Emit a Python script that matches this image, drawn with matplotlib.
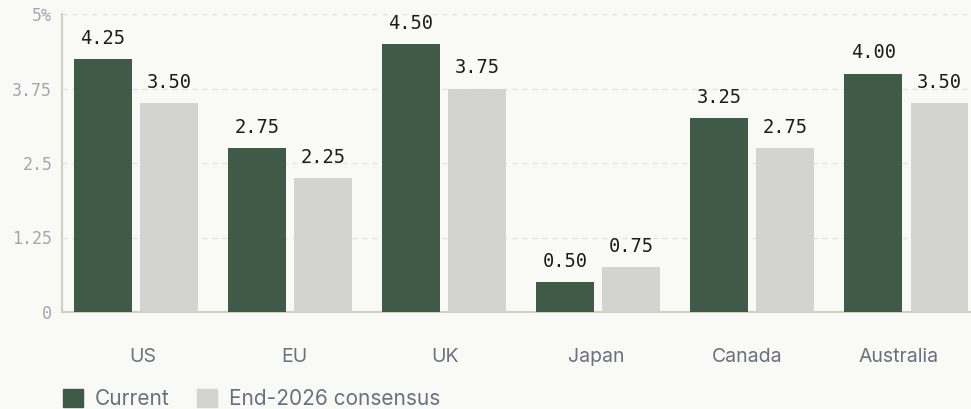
import matplotlib
matplotlib.use("Agg")
import matplotlib.pyplot as plt
import numpy as np
from matplotlib.patches import Patch

countries = ["US", "EU", "UK", "Japan", "Canada", "Australia"]
current = [4.25, 2.75, 4.50, 0.50, 3.25, 4.00]
consensus = [3.50, 2.25, 3.75, 0.75, 2.75, 3.50]
yticks = [0, 1.25, 2.5, 3.75, 5]
ytick_labels = ["0", "1.25", "2.5", "3.75", "5%"]

bg = "#f9f9f5"
green = "#3f5b48"
grey = "#d3d3d1"

fig = plt.figure(figsize=(9.71, 4.09), dpi=100, facecolor=bg)
ax = fig.add_axes([62 / 971, 1 - 312 / 409, 1 - 62 / 971, (312 - 14) / 409])
ax.set_facecolor(bg)

x = np.arange(len(countries))
w = 0.375
b1 = ax.bar(x - 0.215, current, w, color=green, zorder=3)
b2 = ax.bar(x + 0.215, consensus, w, color=grey, zorder=3)

for bars, vals in ((b1, current), (b2, consensus)):
    for r, v in zip(bars, vals):
        ax.annotate(f"{v:.2f}", (r.get_x() + r.get_width() / 2, v),
                    xytext=(0, 8), textcoords="offset points",
                    ha="center", va="bottom", fontsize=13.5,
                    family="DejaVu Sans Mono", color="#1c1c1c")

ax.set_xlim(-0.48, 5.42)
ax.set_ylim(0, 5)
ax.set_yticks(yticks)
ax.set_yticklabels(ytick_labels, family="DejaVu Sans Mono", fontsize=12, color="#a3a6b0")
ax.set_xticks([])
ax.tick_params(axis="both", length=0)
ax.tick_params(axis="y", pad=7)

# category labels sit on a slightly narrower band scale than the bars
lab = ax.twiny()
lab.set_xlim(-0.536, 5.48)
lab.xaxis.set_ticks_position("bottom")
lab.set_xticks(x)
lab.set_xticklabels(countries, family="Inter", fontsize=14, color="#6b7080")
lab.tick_params(axis="x", length=0, pad=26)
for s in lab.spines.values():
    s.set_visible(False)

ax.grid(axis="y", color="#e2e2dc", linestyle=(0, (4, 4)), linewidth=0.9, zorder=0)
for s in ("top", "right"):
    ax.spines[s].set_visible(False)
for s in ("left", "bottom"):
    ax.spines[s].set_color("#d2cfc4")
    ax.spines[s].set_linewidth(1.5)

handles = [Patch(color=green, label="Current"), Patch(color=grey, label="End-2026 consensus")]
fig.legend(handles=handles, loc="lower left", bbox_to_anchor=(44 / 971, -0.046), ncol=2,
           frameon=False, prop={"family": "Inter", "size": 15}, handlelength=0.95,
           handleheight=0.95, handletextpad=0.6, columnspacing=1.3, labelcolor="#6b7080")

fig.savefig("out.png", dpi=100, facecolor=bg)
